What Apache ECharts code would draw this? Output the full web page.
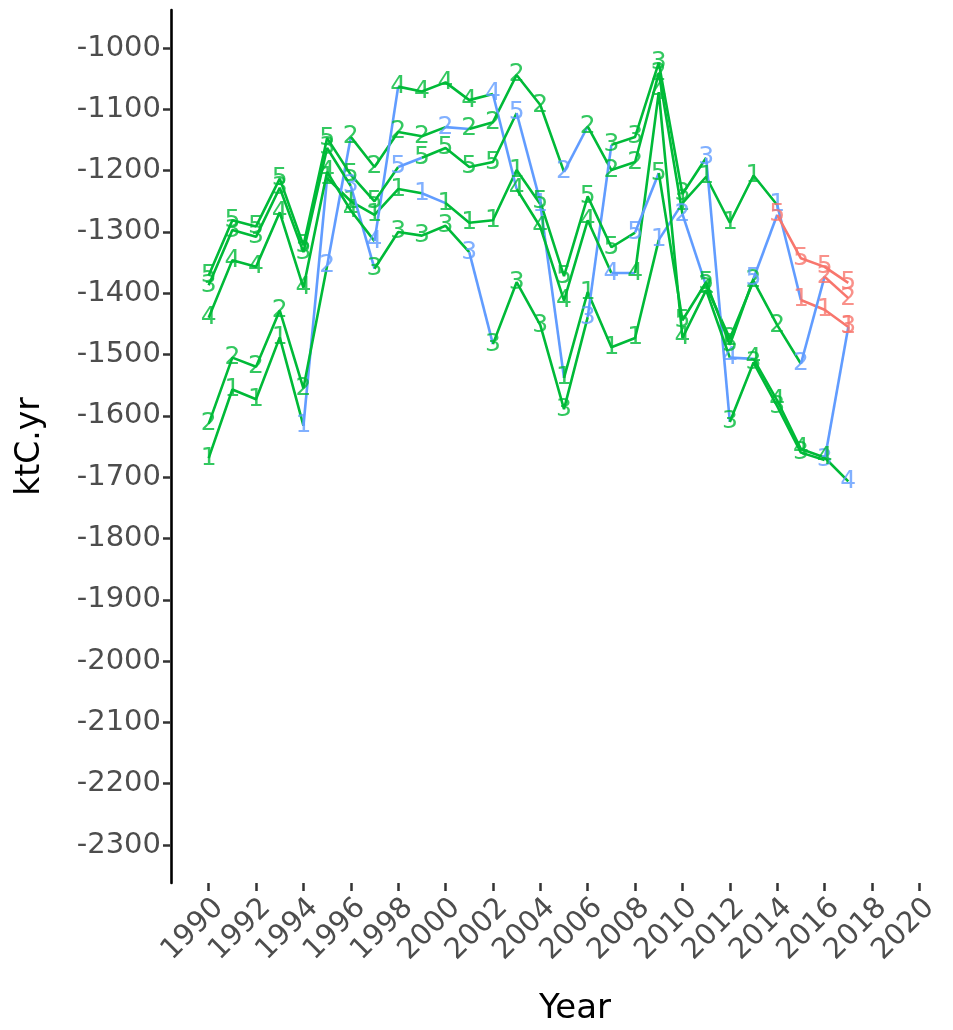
<!DOCTYPE html>
<html>
<head>
<meta charset="utf-8">
<script src="https://cdn.jsdelivr.net/npm/echarts@6/dist/echarts.min.js"></script>
<style>
  html, body { margin: 0; padding: 0; background: #ffffff; }
  #chart { width: 953px; height: 1030px; }
</style>
</head>
<body>
<div id="chart"></div>
<script>
// Years covered by every series
const years = [1990,1991,1992,1993,1994,1995,1996,1997,1998,1999,2000,2001,2002,2003,
               2004,2005,2006,2007,2008,2009,2010,2011,2012,2013,2014,2015,2016,2017];

// Series labels (drawn as the point markers)
const groupNames = ['1', '2', '3', '4', '5'];

// Values (ktC.yr) per series
const s1 = [-1669,-1557,-1573,-1472,-1616,-1212,-1250,-1272,-1230,-1237,-1253,-1285,-1281,-1199,
            -1255,-1538,-1398,-1488,-1473,-1313,-1253,-1210,-1285,-1208,-1256,-1411,-1427,-1455];
const s2 = [-1613,-1505,-1520,-1428,-1555,-1355,-1145,-1194,-1137,-1144,-1129,-1132,-1121,-1044,
            -1093,-1202,-1128,-1199,-1186,-1041,-1271,-1388,-1474,-1380,-1452,-1515,-1373,-1408];
const s3 = [-1387,-1297,-1308,-1228,-1333,-1163,-1225,-1360,-1300,-1306,-1290,-1333,-1483,-1382,
            -1452,-1589,-1439,-1158,-1145,-1024,-1238,-1179,-1610,-1513,-1584,-1660,-1672,-1455];
const s4 = [-1440,-1346,-1357,-1268,-1391,-1202,-1265,-1315,-1063,-1071,-1056,-1085,-1075,-1230,
            -1292,-1412,-1281,-1367,-1367,-1072,-1473,-1395,-1505,-1507,-1575,-1654,-1668,-1707];
const s5 = [-1371,-1281,-1291,-1213,-1322,-1147,-1207,-1250,-1194,-1179,-1163,-1194,-1186,-1106,
            -1251,-1372,-1242,-1325,-1301,-1204,-1444,-1382,-1484,-1376,-1272,-1343,-1357,-1383];

// Category of each point: g = reported, b = inventory year, r = projected
const k1 = ['g','g','g','g','b','g','g','g','g','b','g','g','g','g','b','g','g','g','g','b','g','g','g','g','b','r','r','r'];
const k2 = ['g','g','g','g','g','b','g','g','g','g','b','g','g','g','g','b','g','g','g','g','b','g','g','g','g','b','r','r'];
const k3 = ['g','g','g','g','g','g','b','g','g','g','g','b','g','g','g','g','b','g','g','g','g','b','g','g','g','g','b','r'];
const k4 = ['g','g','g','g','g','g','g','b','g','g','g','g','b','g','g','g','g','b','g','g','g','g','b','g','g','g','g','b'];
const k5 = ['g','g','g','g','g','g','g','g','b','g','g','g','g','b','g','g','g','g','b','g','g','g','g','b','r','r','r','r'];

// Axis tick labels
const xTicks = [1990,1992,1994,1996,1998,2000,2002,2004,2006,2008,2010,2012,2014,2016,2018,2020];
const yTicks = [-2300,-2200,-2100,-2000,-1900,-1800,-1700,-1600,-1500,-1400,-1300,-1200,-1100,-1000];

const palette = { r: '#F8766D', g: '#00BA38', b: '#619CFF' };
const FONT = 'DejaVu Sans, Verdana, sans-serif';

const groups = [
  { name: groupNames[0], vals: s1, kinds: k1 },
  { name: groupNames[1], vals: s2, kinds: k2 },
  { name: groupNames[2], vals: s3, kinds: k3 },
  { name: groupNames[3], vals: s4, kinds: k4 },
  { name: groupNames[4], vals: s5, kinds: k5 }
];

const series = [];

// Path segments take the colour of the point they start from;
// consecutive segments with the same colour share one line series.
groups.forEach(g => {
  let start = 0;
  for (let i = 1; i < g.vals.length; i++) {
    const last = i === g.vals.length - 1;
    if (last || g.kinds[i] !== g.kinds[start]) {
      const data = [];
      for (let j = start; j <= i; j++) data.push([years[j], g.vals[j]]);
      series.push({
        type: 'line',
        data: data,
        symbol: 'none',
        showSymbol: false,
        silent: true,
        z: 2,
        lineStyle: { color: palette[g.kinds[start]], width: 2.6 },
        animation: false
      });
      start = i;
    }
  }
});

// Text markers on top of the lines
groups.forEach(g => {
  series.push({
    type: 'scatter',
    symbolSize: 0,
    silent: true,
    z: 5,
    animation: false,
    data: g.vals.map((v, i) => ({
      value: [years[i], v],
      label: { color: palette[g.kinds[i]] }
    })),
    label: {
      show: true,
      position: 'inside',
      formatter: g.name,
      fontSize: 25,
      fontFamily: FONT,
      align: 'center',
      verticalAlign: 'middle'
    }
  });
});

const chart = echarts.init(document.getElementById('chart'), null, { renderer: 'canvas' });
chart.setOption({
  backgroundColor: '#ffffff',
  animation: false,
  grid: { left: 171, right: 0, top: 10, bottom: 147, containLabel: false },
  graphic: [{
    type: 'text',
    x: 575,
    y: 1009,
    silent: true,
    style: {
      text: 'Year',
      fontSize: 34,
      fontFamily: FONT,
      fill: '#000000',
      align: 'center',
      verticalAlign: 'middle'
    }
  }],
  xAxis: {
    type: 'value',
    min: 1988.41,
    max: 2021.42,
    axisLine: { show: false },
    axisTick: { show: true, length: 8, customValues: xTicks, lineStyle: { color: '#333333', width: 2.5 } },
    axisLabel: {
      customValues: xTicks,
      rotate: 45,
      fontSize: 29,
      color: '#4D4D4D',
      fontFamily: FONT,
      margin: 10,
      align: 'right',
      verticalAlign: 'top',
      formatter: v => String(v)
    },
    splitLine: { show: false }
  },
  yAxis: {
    type: 'value',
    min: -2362,
    max: -938,
    name: 'ktC.yr',
    nameLocation: 'middle',
    nameGap: 124,
    nameRotate: 90,
    nameTextStyle: { fontSize: 33, color: '#000000', fontFamily: FONT },
    axisLine: { show: true, lineStyle: { color: '#000000', width: 2.6 } },
    axisTick: { show: true, length: 8, customValues: yTicks, lineStyle: { color: '#333333', width: 2.5 } },
    axisLabel: {
      customValues: yTicks,
      fontSize: 29,
      color: '#4D4D4D',
      fontFamily: FONT,
      margin: 10,
      formatter: v => String(v)
    },
    splitLine: { show: false }
  },
  series: series
});
</script>
</body>
</html>
